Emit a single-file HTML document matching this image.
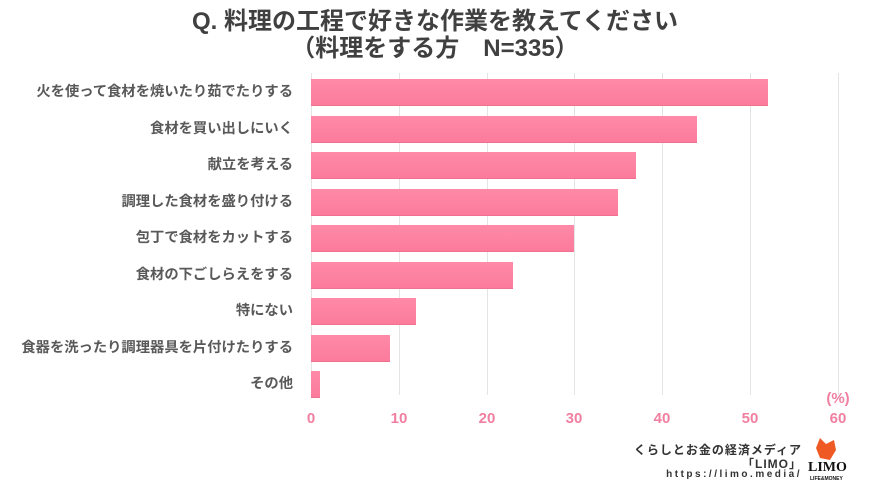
<!DOCTYPE html>
<html><head><meta charset="utf-8"><style>
body{margin:0;width:870px;height:489px;background:#fff;position:relative;overflow:hidden;font-family:"Liberation Sans","Noto Sans CJK JP",sans-serif;}
.t{position:absolute;left:0;width:870px;text-align:center;font-weight:bold;color:#404040;font-size:24px;line-height:27px;}
.g{position:absolute;top:73px;height:322px;width:1px;background:#e4e4e4;}
.b{position:absolute;left:311px;height:27px;background:linear-gradient(#ff8aa8,#fb7b9b);border-bottom:1px solid #f07090;box-sizing:border-box;}
.l{position:absolute;right:577px;font-size:14.3px;font-weight:bold;color:#595959;line-height:27px;white-space:nowrap;}
.x{position:absolute;top:410px;width:40px;margin-left:-20px;text-align:center;color:#f07fa0;font-weight:bold;font-size:15px;}
.f{position:absolute;right:68px;font-size:12px;font-weight:bold;color:#333;letter-spacing:1px;text-align:right;white-space:nowrap;}
</style></head><body>
<div class="t" style="top:8px">Q. 料理の工程で好きな作業を教えてください</div>
<div class="t" style="top:35px">（料理をする方　N=335）</div>
<div class="g" style="left:311px"></div><div class="g" style="left:399px"></div><div class="g" style="left:487px"></div><div class="g" style="left:574px"></div><div class="g" style="left:662px"></div><div class="g" style="left:750px"></div><div class="g" style="left:838px"></div>
<div class="b" style="top:79px;width:457px"></div><div class="l" style="top:79px">火を使って食材を焼いたり茹でたりする</div>
<div class="b" style="top:115.5px;width:386px"></div><div class="l" style="top:115.5px">食材を買い出しにいく</div>
<div class="b" style="top:152px;width:325px"></div><div class="l" style="top:152px">献立を考える</div>
<div class="b" style="top:188.5px;width:307px"></div><div class="l" style="top:188.5px">調理した食材を盛り付ける</div>
<div class="b" style="top:225px;width:263px"></div><div class="l" style="top:225px">包丁で食材をカットする</div>
<div class="b" style="top:261.5px;width:202px"></div><div class="l" style="top:261.5px">食材の下ごしらえをする</div>
<div class="b" style="top:298px;width:105px"></div><div class="l" style="top:298px">特にない</div>
<div class="b" style="top:334.5px;width:79px"></div><div class="l" style="top:334.5px">食器を洗ったり調理器具を片付けたりする</div>
<div class="b" style="top:371px;width:9px"></div><div class="l" style="top:371px">その他</div>
<div class="x" style="left:311px">0</div><div class="x" style="left:399px">10</div><div class="x" style="left:487px">20</div><div class="x" style="left:574px">30</div><div class="x" style="left:662px">40</div><div class="x" style="left:750px">50</div><div class="x" style="left:838px">60</div>
<div class="x" style="left:838px;top:390px;width:50px;margin-left:-25px">(%)</div>
<div class="f" style="top:441px">くらしとお金の経済メディア</div>
<div class="f" style="top:455px">「LIMO」</div>
<div class="f" style="top:469px;font-size:10px;letter-spacing:2.5px">https://limo.media/</div>
<svg style="position:absolute;left:812px;top:436px" width="30" height="26"><path d="M8 2 L14 8 L22 4 L24 14 L18 24 L8 22 L4 12 Z" fill="#ef5a24"/></svg>
<div style="position:absolute;left:808px;top:460px;font:bold 14px 'Liberation Serif',serif;color:#111">LIMO</div>
<div style="position:absolute;left:810px;top:476px;font:bold 5px 'Liberation Sans',sans-serif;color:#111">LIFE&amp;MONEY</div>
</body></html>
